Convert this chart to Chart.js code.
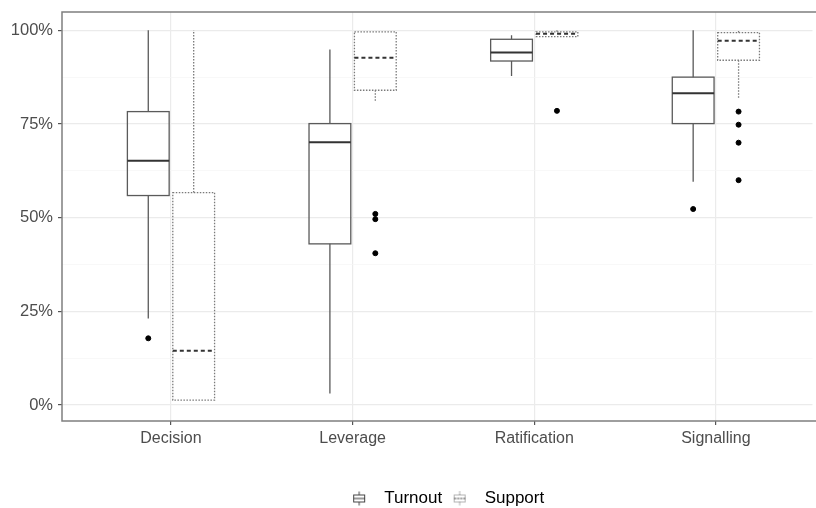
<!DOCTYPE html>
<html lang="en">
<head>
    <meta charset="UTF-8">
    <title>Turnout and Support</title>
    <script src="https://cdn.jsdelivr.net/npm/chart.js"></script>
    <style>
        body { margin: 0; background: #fff; }
    </style>
</head>
<body>
    <canvas id="boxChart" width="816" height="508"></canvas>

    <script>
        // Categories and tick labels
        const categories = ['Decision', 'Leverage', 'Ratification', 'Signalling'];
        const yTicks = [0, 25, 50, 75, 100];

        // Turnout box stats (percent)
        const turnoutMin = [23.1, 3.1, 87.8, 59.6];
        const turnoutQ1 = [55.9, 43.0, 91.8, 75.1];
        const turnoutMedian = [65.2, 70.1, 94.1, 83.2];
        const turnoutQ3 = [78.3, 75.1, 97.6, 87.5];
        const turnoutMax = [100, 94.9, 98.7, 100];
        const turnoutOutliers = [[17.8], [], [], [52.3]];

        // Support box stats (percent)
        const supportMin = [1.3, 80.8, 98.3, 81.9];
        const supportQ1 = [1.3, 84.0, 98.3, 92.0];
        const supportMedian = [14.5, 92.7, 99.1, 97.2];
        const supportQ3 = [56.7, 99.6, 99.6, 99.4];
        const supportMax = [100, 99.6, 100, 100];
        const supportOutliers = [[], [51.0, 49.6, 40.5], [78.5], [78.3, 74.8, 70.0, 60.0]];

        const dodge = 0.125;   // offset of each box from the category centre
        const boxWidth = 0.23; // box width in category units

        const series = [
            { label: 'Turnout', min: turnoutMin, q1: turnoutQ1, med: turnoutMedian, q3: turnoutQ3, max: turnoutMax, out: turnoutOutliers, side: -1, dotted: false },
            { label: 'Support', min: supportMin, q1: supportQ1, med: supportMedian, q3: supportQ3, max: supportMax, out: supportOutliers, side: 1, dotted: true }
        ];

        // outlier points as scatter data
        function outlierPoints(s) {
            const pts = [];
            s.out.forEach((vals, i) => {
                vals.forEach(v => pts.push({ x: i + 1 + s.side * dodge, y: v }));
            });
            return pts;
        }

        // small boxplot icons for the legend
        function legendIcon(dotted) {
            const c = document.createElement('canvas');
            c.width = 14; c.height = 16;
            const g = c.getContext('2d');
            g.strokeStyle = dotted ? '#666' : '#444';
            g.lineWidth = 1;
            if (dotted) g.setLineDash([1, 1]);
            g.beginPath();
            g.moveTo(7, 1); g.lineTo(7, 4.5);
            g.moveTo(7, 11.5); g.lineTo(7, 15);
            g.stroke();
            g.strokeRect(1.5, 4.5, 11, 7);
            g.setLineDash(dotted ? [2, 1] : []);
            g.strokeStyle = '#333';
            g.beginPath();
            g.moveTo(1.5, 8); g.lineTo(12.5, 8);
            g.stroke();
            return c;
        }
        const icons = [legendIcon(false), legendIcon(true)];

        // draws the boxes, whiskers and medians through the chart scales
        const boxPlugin = {
            id: 'boxes',
            afterLayout(chart) {
                // centre the legend on the (cropped) panel like ggplot does
                const lg = chart.legend;
                const x = chart.scales.x;
                const shift = x.getPixelForValue((x.min + 4.6) / 2) - (lg.left + lg.right) / 2;
                lg.left += shift;
                lg.right += shift;
            },
            beforeDatasetsDraw(chart) {
                const ctx = chart.ctx;
                const x = chart.scales.x;
                const y = chart.scales.y;
                const half = (x.getPixelForValue(1 + boxWidth / 2) - x.getPixelForValue(1));
                ctx.save();
                series.forEach(s => {
                    categories.forEach((cat, i) => {
                        const xc = x.getPixelForValue(i + 1 + s.side * dodge);
                        const yMin = y.getPixelForValue(s.min[i]);
                        const yQ1 = y.getPixelForValue(s.q1[i]);
                        const yMed = y.getPixelForValue(s.med[i]);
                        const yQ3 = y.getPixelForValue(s.q3[i]);
                        const yMax = y.getPixelForValue(s.max[i]);

                        ctx.strokeStyle = s.dotted ? '#7a7a7a' : '#5a5a5a';
                        ctx.lineWidth = 1.3;
                        ctx.setLineDash(s.dotted ? [1.5, 1.5] : []);
                        ctx.beginPath();
                        ctx.moveTo(xc, yQ3); ctx.lineTo(xc, yMax);
                        ctx.moveTo(xc, yQ1); ctx.lineTo(xc, yMin);
                        ctx.stroke();
                        ctx.strokeRect(xc - half, yQ3, half * 2, yQ1 - yQ3);

                        ctx.strokeStyle = '#333';
                        ctx.lineWidth = 2;
                        ctx.setLineDash(s.dotted ? [4, 3] : []);
                        ctx.beginPath();
                        ctx.moveTo(xc - half, yMed); ctx.lineTo(xc + half, yMed);
                        ctx.stroke();
                    });
                });
                ctx.restore();
            },
            afterDraw(chart) {
                // panel border (right side falls outside the picture)
                const a = chart.chartArea;
                const ctx = chart.ctx;
                ctx.save();
                ctx.strokeStyle = '#7f7f7f';
                ctx.lineWidth = 1.5;
                ctx.beginPath();
                ctx.moveTo(chart.width, a.top);
                ctx.lineTo(a.left, a.top);
                ctx.lineTo(a.left, a.bottom);
                ctx.lineTo(chart.width, a.bottom);
                ctx.stroke();
                ctx.restore();
            }
        };

        const ctx = document.getElementById('boxChart').getContext('2d');
        const chart = new Chart(ctx, {
            type: 'scatter',
            data: {
                datasets: series.map(s => ({
                    label: s.label,
                    data: outlierPoints(s),
                    backgroundColor: '#000',
                    borderColor: '#000',
                    pointRadius: 2.5,
                    pointHoverRadius: 2.5
                }))
            },
            plugins: [boxPlugin],
            options: {
                responsive: false,
                animation: false,
                layout: { padding: { top: 12, right: 0, left: 0, bottom: -9 } },
                plugins: {
                    tooltip: { enabled: false },
                    legend: {
                        position: 'bottom',
                        labels: {
                            usePointStyle: true,
                            pointStyleWidth: 33,
                            color: '#000',
                            font: { family: 'Liberation Sans, Arial, sans-serif', size: 17 },
                            padding: 1,
                            generateLabels: (c) => series.map((s, i) => ({
                                text: s.label,
                                pointStyle: icons[i],
                                datasetIndex: i,
                                fontColor: '#000',
                                lineWidth: 0,
                                strokeStyle: 'transparent',
                                fillStyle: 'transparent'
                            }))
                        }
                    }
                },
                scales: {
                    x: {
                        type: 'linear',
                        min: 0.4,
                        max: 4.532,
                        afterBuildTicks: (scale) => {
                            scale.ticks = categories.map((c, i) => ({ value: i + 1 }));
                        },
                        afterFit: (scale) => {
                            scale.height = 68;
                            scale.paddingLeft = 0;
                            scale.paddingRight = 0;
                        },
                        ticks: {
                            callback: (v) => categories[v - 1],
                            color: '#4d4d4d',
                            font: { family: 'Liberation Sans, Arial, sans-serif', size: 16 },
                            padding: 4,
                            maxRotation: 0
                        },
                        grid: {
                            color: '#ebebeb',
                            lineWidth: 1.2,
                            tickColor: '#555',
                            tickLength: 4
                        },
                        border: { display: false }
                    },
                    y: {
                        min: -4.27,
                        max: 104.88,
                        afterBuildTicks: (scale) => {
                            const t = [];
                            for (let v = 0; v <= 100; v += 12.5) t.push({ value: v });
                            scale.ticks = t;
                        },
                        afterFit: (scale) => {
                            scale.width = 62;
                            scale.paddingTop = 0;
                            scale.paddingBottom = 0;
                        },
                        ticks: {
                            callback: (v) => yTicks.includes(v) ? v + '%' : '',
                            color: '#4d4d4d',
                            font: { family: 'Liberation Sans, Arial, sans-serif', size: 16.5 },
                            padding: 5
                        },
                        grid: {
                            color: (c) => yTicks.includes(c.tick.value) ? '#ebebeb' : '#f5f5f5',
                            lineWidth: (c) => yTicks.includes(c.tick.value) ? 1.2 : 0.7,
                            tickColor: (c) => yTicks.includes(c.tick.value) ? '#555' : 'rgba(0,0,0,0)',
                            tickLength: 4
                        },
                        border: { display: false }
                    }
                }
            }
        });
    </script>
</body>
</html>
